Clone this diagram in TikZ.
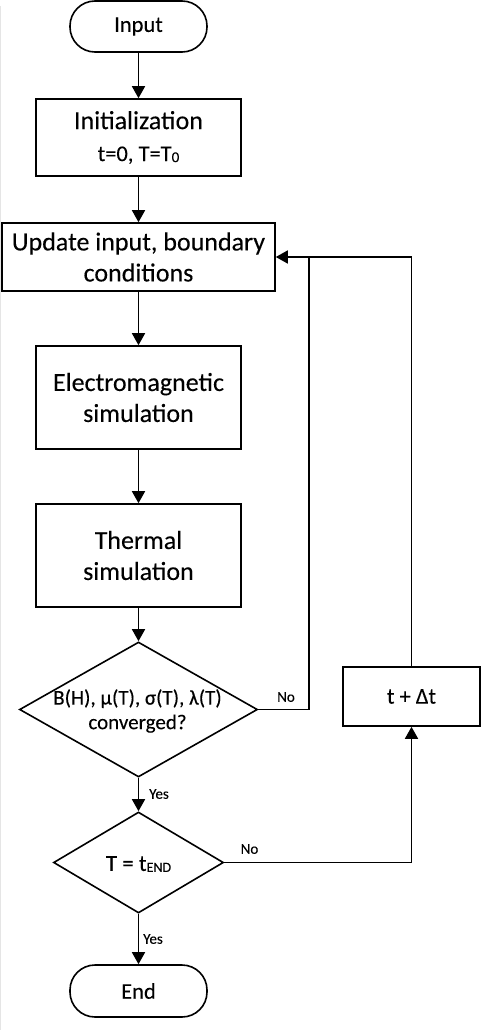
\documentclass[tikz,border=0pt]{standalone}
\usepackage{fontspec}
\setmainfont{Carlito}[FakeBold=0.15]
\usetikzlibrary{arrows.meta,shapes.geometric}
\newcommand\fsz[2]{\fontsize{#1}{#2}\selectfont}
\begin{document}
\begin{tikzpicture}[x=1pt,y=-1pt,
  line width=1.6pt,
  box/.style={draw, rectangle, inner sep=0pt, align=center, font=\fsz{26}{31}},
  term/.style={draw, rectangle, rounded corners=25pt, inner sep=0pt, minimum width=137pt, font=\fsz{22.5}{28}},
  dia/.style={draw, diamond, inner sep=0pt},
  arr/.style={-{Triangle[width=13pt,length=12pt]}},
  lbl/.style={font=\fsz{15}{18}, inner sep=0pt}]
\useasboundingbox (0,0) rectangle (489,1030);
\draw[gray!20, line width=1pt] (0.5,6) -- (0.5,1030);

\node[term, minimum height=51pt] (in) at (138.5,26.5) {Input};
\node[box, minimum width=205pt, minimum height=77pt, font=\fsz{26}{32}] (init) at (138.5,137.5)
  {Initialization\\{\fsz{22.5}{32}t=0, T=T\raisebox{-1pt}{\fsz{15}{18}0}}};
\node[box, minimum width=273pt, minimum height=68pt] (upd) at (138.5,257) {Update input, boundary\\conditions};
\node[box, minimum width=205pt, minimum height=103pt] (em) at (138.5,397.5) {Electromagnetic\\simulation};
\node[box, minimum width=205pt, minimum height=103pt] (th) at (138.5,555.5) {Thermal\\simulation};
\node[dia, minimum width=238pt, minimum height=135pt] (d1) at (138.5,709.5) {};
\node[align=center, inner sep=0pt, font=\fsz{21}{24.5}] (d1t) at (137.5,711) {B(H), μ(T), σ(T), λ(T)\\converged?};
\node[dia, minimum width=170pt, minimum height=101pt] (d2) at (138.5,862.5) {};
\node[inner sep=0pt, font=\fsz{23}{28}] (d2t) at (138.5,864) {T = t\raisebox{-1pt}{\fsz{14}{18}END}};
\node[box, minimum width=137pt, minimum height=59pt, font=\fsz{22.5}{28}] (tdt) at (411.5,696.5) {t + Δt};
\node[term, minimum height=52pt] (end) at (138.5,991) {End};

\coordinate (j) at (309,257);

\draw[arr] (in) -- (init);
\draw[arr] (init) -- (upd);
\draw[arr] (upd) -- (em);
\draw[arr] (em) -- (th);
\draw[arr] (th) -- (d1);
\draw[arr] (d1) -- (d2);
\draw[arr] (d2) -- (end);
\draw (d1.east) -| (j);
\draw[arr] (tdt.north) |- (upd.east);
\draw[arr] (d2.east) -| (tdt.south);

\node[lbl] (no1) at (286,697) {No};
\node[lbl] (no2) at (249.5,849) {No};
\node[lbl] (yes1) at (159,794) {Yes};
\node[lbl] (yes2) at (153,939) {Yes};
\end{tikzpicture}
\end{document}
